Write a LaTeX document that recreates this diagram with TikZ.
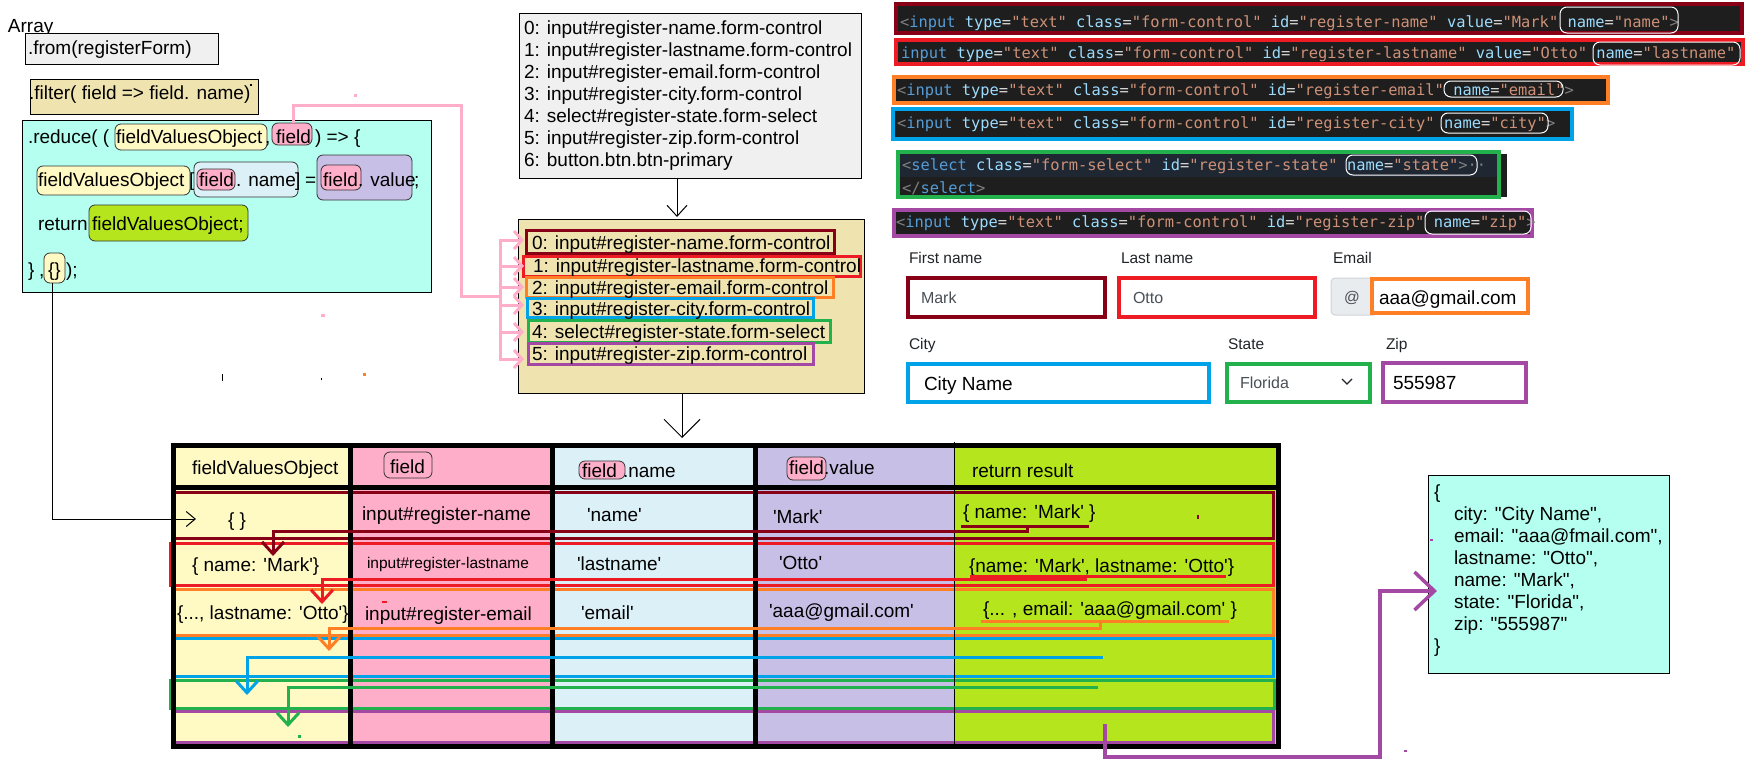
\documentclass[tikz,border=0pt]{standalone}
\usepackage{fontspec}
\newfontfamily\af{Liberation Sans}
\setmonofont{DejaVu Sans Mono}
\usetikzlibrary{arrows.meta}
\definecolor{dred}{HTML}{880015}
\definecolor{cred}{HTML}{ED1C24}
\definecolor{corange}{HTML}{FF7F27}
\definecolor{cblue}{HTML}{00A2E8}
\definecolor{cgreen}{HTML}{22B14C}
\definecolor{cpurple}{HTML}{A349A4}
\definecolor{cpink}{HTML}{FFAEC9}
\definecolor{cyellow}{HTML}{FFFAC4}
\definecolor{clblue}{HTML}{DCF0F8}
\definecolor{clav}{HTML}{C8BFE7}
\definecolor{clime}{HTML}{B5E61D}
\definecolor{caqua}{HTML}{B4FFF0}
\definecolor{ctan}{HTML}{EFE4B0}
\definecolor{cgrayf}{HTML}{F0F0F0}
\definecolor{codebg}{HTML}{1E1E1E}
\definecolor{codebgb}{HTML}{1F2733}
\definecolor{kpunc}{HTML}{808080}
\definecolor{ktag}{HTML}{569CD6}
\definecolor{kattr}{HTML}{9CDCFE}
\definecolor{kval}{HTML}{CE9178}
\definecolor{keq}{HTML}{D4D4D4}
\definecolor{clabel}{HTML}{212529}
\definecolor{cinput}{HTML}{495057}
\definecolor{caddon}{HTML}{E9ECEF}
\definecolor{cborder}{HTML}{CED4DA}
\newcommand\cdP[1]{\textcolor{kpunc}{#1}}
\newcommand\cdT[1]{\textcolor{ktag}{#1}}
\newcommand\cdA[1]{\textcolor{kattr}{#1}}
\newcommand\cdV[1]{\textcolor{kval}{#1}}
\begin{document}
\begin{tikzpicture}[x=1pt,y=-1pt,
  every node/.style={inner sep=0pt, outer sep=0pt},
  txt/.style={anchor=base west, font=\af\fontsize{19}{22}\selectfont},
  smalltxt/.style={anchor=base west, font=\af\fontsize{15.5}{18}\selectfont},
  codetxt/.style={anchor=base west, font=\ttfamily\fontsize{15.4}{18}\selectfont, text=keq},
  hl/.style={draw=black!80, line width=0.8pt, rounded corners=6pt},
  boxframe/.style={draw=black, line width=1pt},
  rowline/.style={line width=3pt},
  codebox/.style={fill=codebg, line width=4pt},
  namebox/.style={draw=white, line width=1pt, rounded corners=7pt},
  inputbox/.style={fill=white, line width=3.5pt},
  flow/.style={line width=3pt},
  barb/.style={-{Straight Barb[length=12pt,width=22pt]}},
  gridline/.style={line width=5pt, line cap=rect}
]
\path[use as bounding box, fill=white] (0,0) rectangle (1757,763);

% ================= left: code chain =================
\node[txt] (arrayT) at (8,32) {Array};
\draw[boxframe, fill=cgrayf] (25,33) rectangle (218,64);
\node[txt] (fromT) at (28,54) {.from(registerForm)};
\draw[boxframe, fill=ctan] (30,79) rectangle (258,114);
\node[txt] (filterT) at (29,99) {.filter( field => field. name)};
\fill (250,84) rectangle (251.5,86);
\draw[boxframe, fill=caqua] (22,120) rectangle (431,292);
% line 1
\draw[hl, fill=cyellow] (115,124) rectangle (267,150);
\draw[hl, fill=cpink] (272,123) rectangle (312,145);
\node[txt] (r1a) at (28,143) {.reduce( (};
\node[txt] (r1b) at (116,143) {fieldValuesObject};
\node[txt] (r1c) at (265,143) {,};
\node[txt] (r1d) at (276,143) {field};
\node[txt] (r1e) at (315,143) {) => \{};
% line 2
\draw[hl, fill=cyellow] (37,166) rectangle (190,195);
\draw[hl, fill=clblue] (194,162) rectangle (298,197);
\draw[hl, fill=cpink] (197,169) rectangle (235,190);
\draw[hl, fill=clav] (317,155) rectangle (412,200);
\draw[hl, fill=cpink] (321,165) rectangle (361,190);
\node[txt] (r2a) at (38,186) {fieldValuesObject};
\node[txt] (r2b) at (189,186) {[};
\node[txt] (r2c) at (199,186) {field};
\node[txt] (r2d) at (236,186) {. name};
\node[txt] (r2e) at (295,186) {]};
\node[txt] (r2f) at (305,186) {=};
\node[txt] (r2g) at (323,186) {field};
\node[txt] (r2h) at (358,186) {. value};
\node[txt] (r2i) at (414,186) {;};
% line 3
\draw[hl, fill=clime] (89,205) rectangle (248,241);
\node[txt] (r3a) at (38,230) {return};
\node[txt] (r3b) at (92,230) {fieldValuesObject;};
% line 4
\draw[hl, fill=cyellow] (44,253) rectangle (65,283);
\node[txt] (r4a) at (28,276) {\}};
\node[txt] (r4b) at (39,276) {,};
\node[txt] (r4c) at (48,276) {\{\}};
\node[txt] (r4d) at (66,276) {);};

% ================= middle: lists =================
\draw[boxframe, fill=cgrayf] (519,13) rectangle (861,178);
\node[txt] (g0) at (524,34) {0: input\#register-name.form-control};
\node[txt] (g1) at (524,56) {1: input\#register-lastname.form-control};
\node[txt] (g2) at (524,78) {2: input\#register-email.form-control};
\node[txt] (g3) at (524,100) {3: input\#register-city.form-control};
\node[txt] (g4) at (524,122) {4: select\#register-state.form-select};
\node[txt] (g5) at (524,144) {5: input\#register-zip.form-control};
\node[txt] (g6) at (524,166) {6: button.btn.btn-primary};

\draw[boxframe, fill=ctan] (518,219) rectangle (864,393);
\draw[rowline, dred] (526,230) rectangle (834,253);
\draw[rowline, cred] (523,256) rectangle (860,276);
\draw[rowline, corange] (526,277) rectangle (833,297);
\draw[rowline, cblue] (527,298) rectangle (813,317);
\draw[rowline, cgreen] (528,320) rectangle (830,342);
\draw[rowline, cpurple] (528,343) rectangle (813,364);
\node[txt] (t0) at (532,249) {0: input\#register-name.form-control};
\node[txt] (t1) at (533,272) {1: input\#register-lastname.form-control};
\node[txt] (t2) at (532,294) {2: input\#register-email.form-control};
\node[txt] (t3) at (532,315) {3: input\#register-city.form-control};
\node[txt] (t4) at (532,338) {4: select\#register-state.form-select};
\node[txt] (t5) at (532,360) {5: input\#register-zip.form-control};

\coordinate (grayOut) at (677,178);
\coordinate (tanIn) at (677,217);
\draw[line width=1pt, -{Straight Barb[length=11pt,width=20pt]}] (grayOut) -- (tanIn);
\coordinate (tanOut) at (682,393);
\coordinate (tableIn) at (682,438);
\draw[line width=1pt, -{Straight Barb[length=18pt,width=36pt]}] (tanOut) -- (tableIn);

% pink connector from "field"
\coordinate (fieldTop) at (293,123);
\draw[flow, cpink] (fieldTop) -- (293,105) -- (461,105) -- (461,296) -- (500,296);
\draw[flow, cpink] (500,239) -- (500,360);
\foreach \yy in {240,266,287,305,332,359}
  \draw[flow, cpink, -{Straight Barb[length=8pt,width=18pt]}] (499,\yy) -- (524,\yy);

% ================= top right: html code =================
\draw[codebox, draw=dred] (896,4) rectangle (1742,33);
\draw[codebox, draw=cred] (896,40) rectangle (1743,64);
\draw[codebox, draw=corange] (894,77) rectangle (1608,103);
\draw[codebox, draw=cblue] (893,109) rectangle (1572,139);
\fill[codebg] (1500,154) rectangle (1507,197);
\draw[codebox, draw=cgreen] (898,152) rectangle (1499,197);
\fill[codebgb] (900,154) rectangle (1497,177);
\draw[codebox, draw=cpurple] (894,210) rectangle (1532,236);

\node[codetxt] (c1) at (900,27) {\cdP{<}\cdT{input} \cdA{type}=\cdV{"text"} \cdA{class}=\cdV{"form-control"} \cdA{id}=\cdV{"register-name"} \cdA{value}=\cdV{"Mark"} \cdA{name}=\cdV{"name"}\cdP{>}};
\node[codetxt] (c2) at (901,58) {\cdT{input} \cdA{type}=\cdV{"text"} \cdA{class}=\cdV{"form-control"} \cdA{id}=\cdV{"register-lastname"} \cdA{value}=\cdV{"Otto"} \cdA{name}=\cdV{"lastname"}};
\node[codetxt] (c3) at (897,95) {\cdP{<}\cdT{input} \cdA{type}=\cdV{"text"} \cdA{class}=\cdV{"form-control"} \cdA{id}=\cdV{"register-email"} \cdA{name}=\cdV{"email"}\cdP{>}};
\node[codetxt] (c4) at (897,128) {\cdP{<}\cdT{input} \cdA{type}=\cdV{"text"} \cdA{class}=\cdV{"form-control"} \cdA{id}=\cdV{"register-city"} \cdA{name}=\cdV{"city"}\cdP{>}};
\node[codetxt] (c5) at (902,170) {\cdP{<}\cdT{select} \cdA{class}=\cdV{"form-select"} \cdA{id}=\cdV{"register-state"} \cdA{name}=\cdV{"state"}\cdP{>··}};
\node[codetxt] (c5b) at (902,193) {\cdP{</}\cdT{select}\cdP{>}};
\node[codetxt] (c6) at (896,227) {\cdP{<}\cdT{input} \cdA{type}=\cdV{"text"} \cdA{class}=\cdV{"form-control"} \cdA{id}=\cdV{"register-zip"} \cdA{name}=\cdV{"zip"}\cdP{>}};

\draw[namebox] (1560,7) rectangle (1678,33);
\draw[namebox] (1593,42) rectangle (1740,65);
\draw[namebox] (1444,81) rectangle (1563,97);
\draw[namebox] (1441,113) rectangle (1548,133);
\draw[namebox] (1346,155) rectangle (1477,175);
\draw[namebox] (1425,211) rectangle (1531,234);

% ================= form =================
\node[smalltxt, text=clabel] (lFirst) at (909,263) {First name};
\node[smalltxt, text=clabel] (lLast) at (1121,263) {Last name};
\node[smalltxt, text=clabel] (lEmail) at (1333,263) {Email};
\node[smalltxt, text=clabel] (lCity) at (909,349) {City};
\node[smalltxt, text=clabel] (lState) at (1228,349) {State};
\node[smalltxt, text=clabel] (lZip) at (1386,349) {Zip};

\draw[inputbox, draw=dred] (908,278) rectangle (1105,317);
\node[smalltxt, text=cinput, font=\af\fontsize{16}{18}\selectfont] (vMark) at (921,303) {Mark};
\draw[inputbox, draw=cred] (1119,278) rectangle (1315,317);
\node[smalltxt, text=cinput, font=\af\fontsize{16}{18}\selectfont] (vOtto) at (1133,303) {Otto};
\draw[fill=caddon, draw=cborder, line width=1pt, rounded corners=4pt] (1331,278) rectangle (1378,315);
\node[smalltxt, text=cinput] (vAt) at (1344,302) {@};
\draw[inputbox, draw=corange] (1372,279) rectangle (1528,313);
\node[txt] (vEmail) at (1379,304) {aaa@gmail.com};
\draw[inputbox, draw=cblue] (908,364) rectangle (1209,402);
\node[txt] (vCity) at (924,390) {City Name};
\draw[inputbox, draw=cgreen] (1227,364) rectangle (1370,402);
\node[smalltxt, text=cinput, font=\af\fontsize{16}{18}\selectfont] (vState) at (1240,388) {Florida};
\draw[line width=1.3pt, draw=clabel] (1342,379) -- (1347,384) -- (1352,379);
\draw[inputbox, draw=cpurple] (1383,363) rectangle (1526,402);
\node[txt] (vZip) at (1393,389) {555987};

% ================= table =================
\fill[cyellow] (173,445) rectangle (350,746);
\fill[cpink] (350,445) rectangle (552,746);
\fill[clblue] (552,445) rectangle (755,746);
\fill[clav] (755,445) rectangle (954,746);
\fill[clime] (954,445) rectangle (1278,746);

\draw[rowline, dred] (173,492) rectangle (1273,538);
\draw[rowline, cred] (170,543) rectangle (1273,585);
\draw[rowline, corange] (173,589) rectangle (1273,635);
\draw[rowline, cblue] (173,638) rectangle (1273,676);
\draw[rowline, cgreen] (170,680) rectangle (1274,708);
\draw[rowline, cpurple] (173,711) rectangle (1273,742);

\draw[line width=1pt] (954,442) -- (954,746);
\draw[gridline] (350,445) -- (350,746);
\draw[gridline] (552,445) -- (552,746);
\draw[gridline] (755,445) -- (755,746);
\draw[gridline] (173,487) -- (1278,487);
\draw[gridline] (173,445) rectangle (1278,746);

% header
\node[txt] (hObj) at (192,474) {fieldValuesObject};
\draw[hl] (384,452) rectangle (432,478);
\node[txt] (hField) at (390,473) {field};
\draw[hl, fill=cpink] (579,461) rectangle (625,479);
\node[txt] (hName) at (582,477) {field};
\node[txt] (hNameB) at (623,477) {.name};
\draw[hl, fill=cpink] (787,457) rectangle (826,480);
\node[txt] (hValue) at (789,474) {field};
\node[txt] (hValueB) at (824,474) {.value};
\node[txt] (hRes) at (972,477) {return result};

% row 1
\node[txt] (a1) at (228,526) {\{ \}};
\node[txt] (b1) at (362,520) {input\#register-name};
\node[txt] (d1) at (587,521) {'name'};
\node[txt] (e1) at (773,523) {'Mark'};
\node[txt] (f1) at (963,518) {\{ name: 'Mark' \}};
% row 2
\node[txt] (a2) at (192,571) {\{ name: 'Mark'\}};
\node[smalltxt] (b2) at (367,568) {input\#register-lastname};
\node[txt] (d2) at (577,570) {'lastname'};
\node[txt] (e2) at (779,569) {'Otto'};
\node[txt] (f2) at (969,572) {\{name: 'Mark', lastname: 'Otto'\}};
% row 3
\node[txt] (a3) at (177,619) {\{..., lastname: 'Otto'\}};
\node[txt] (b3) at (365,620) {input\#register-email};
\node[txt] (d3) at (581,619) {'email'};
\node[txt] (e3) at (769,617) {'aaa@gmail.com'};
\node[txt] (f3) at (983,615) {\{... , email: 'aaa@gmail.com' \}};

% connectors inside table
\coordinate (objStart) at (52,283);
\coordinate (objEnd) at (196,519);
\draw[line width=1pt, -{Straight Barb[length=9pt,width=15pt]}] (objStart) -- (52,519) -- (objEnd);

\draw[flow, dred] (961,526) -- (1089,526);
\draw[flow, dred, barb] (1027,526) -- (1027,531) -- (273,531) -- (273,556);
\draw[flow, cred] (970,576) -- (1226,576);
\draw[flow, cred, barb] (1085,576) -- (1085,579) -- (322,579) -- (322,604);
\draw[flow, corange] (981,621) -- (1229,621);
\draw[flow, corange, barb] (1100,621) -- (1100,628) -- (329,628) -- (329,651);
\draw[flow, cblue, barb] (1103,657) -- (247,657) -- (247,695);
\draw[flow, cgreen, barb] (1098,687) -- (288,687) -- (288,727);

% ================= result =================
\draw[boxframe, fill=caqua] (1428,475) rectangle (1669,673);
\node[txt] (o0) at (1434,498) {\{};
\node[txt] (o1) at (1454,520) {city: "City Name",};
\node[txt] (o2) at (1454,542) {email: "aaa@fmail.com",};
\node[txt] (o3) at (1454,564) {lastname: "Otto",};
\node[txt] (o4) at (1454,586) {name: "Mark",};
\node[txt] (o5) at (1454,608) {state: "Florida",};
\node[txt] (o6) at (1454,630) {zip: "555987"};
\node[txt] (o7) at (1434,652) {\}};
\coordinate (resIn) at (1437,591);
\draw[line width=3.5pt, cpurple, -{Straight Barb[length=20pt,width=38pt]}] (1105,724) -- (1105,757) -- (1380,757) -- (1380,591) -- (resIn);

% stray marks
\fill[cpink] (354,94) rectangle (357,97);
\fill[cpink] (321,314) rectangle (325,317);
\fill (222,374) rectangle (223,381);
\fill (321,378) rectangle (322,380);
\fill[corange] (363,373) rectangle (366,376);
\fill[cred] (382,601) rectangle (387,603);
\fill[dred] (1197,515) rectangle (1199,519);
\fill[cgreen] (298,735) rectangle (301,738);
\fill[cpurple] (1430,539) rectangle (1433,541);
\fill[cpurple] (1404,750) rectangle (1407,752);
\end{tikzpicture}
\end{document}
